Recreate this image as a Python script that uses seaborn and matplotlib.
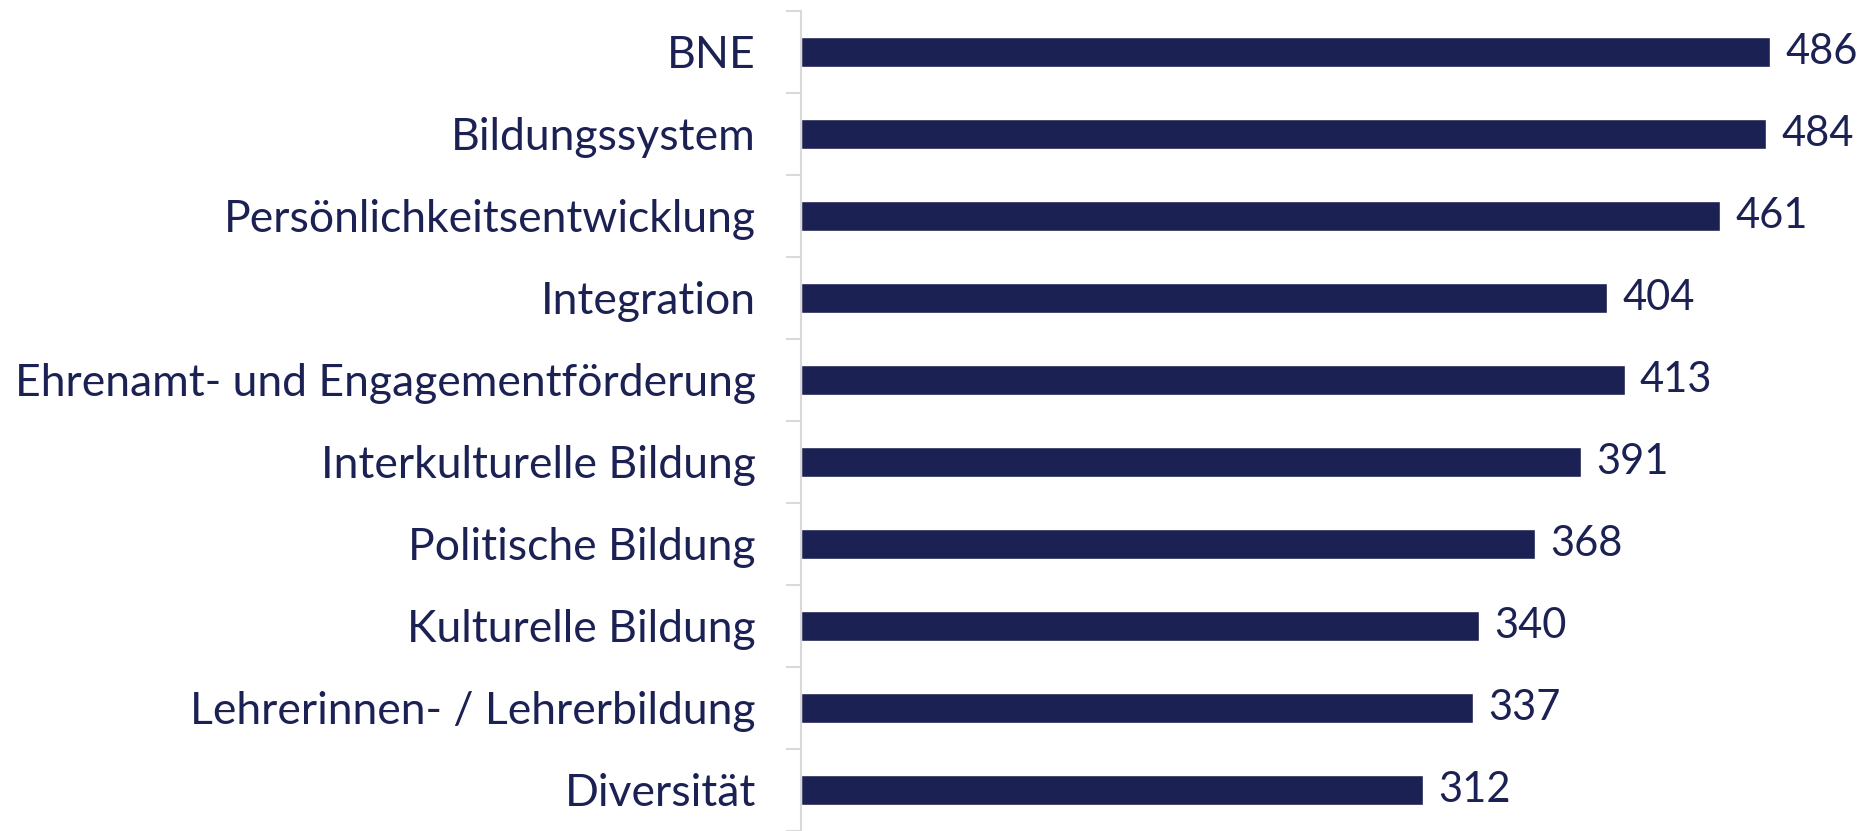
import matplotlib
matplotlib.use("Agg")
import matplotlib.pyplot as plt
import seaborn as sns
import pandas as pd
import numpy as np

categories = ["BNE", "Bildungssystem", "Persönlichkeitsentwicklung", "Integration",
              "Ehrenamt- und Engagementförderung", "Interkulturelle Bildung",
              "Politische Bildung", "Kulturelle Bildung",
              "Lehrerinnen- / Lehrerbildung", "Diversität"]
values = [486, 484, 461, 404, 413, 391, 368, 340, 337, 312]

NAVY = "#1c2154"
GRID = "#d9d9d9"

sns.set_theme(style="white")
plt.rcParams['font.family'] = ['Lato', 'DejaVu Sans']

W, H = 1862, 831
fig = plt.figure(figsize=(W / 100, H / 100), dpi=100)
ax = fig.add_axes([801 / W, 0, (W - 801) / W, 820 / H])

df = pd.DataFrame({"cat": categories, "val": values})
sns.barplot(data=df, x="val", y="cat", orient="h", color=NAVY, width=0.355,
            saturation=1, ax=ax)

ax.set_xlim(0, 532)
ax.set_ylim(9.475, -0.5)
ax.set_xlabel("")
ax.set_ylabel("")
ax.set_xticks([])

for s in ["top", "right", "bottom"]:
    ax.spines[s].set_visible(False)
ax.spines["left"].set_color(GRID)
ax.spines["left"].set_linewidth(1.5)

ax.set_yticks(np.arange(len(categories)))
ax.set_yticklabels(categories)
ax.set_yticks(np.arange(-0.5, len(categories), 1.0), minor=True)
ax.tick_params(axis="y", which="major", length=0, pad=32.5, labelsize=32, labelcolor=NAVY)
ax.tick_params(axis="y", which="minor", length=11, width=1.5, color=GRID, left=True)

for c in ax.containers:
    ax.bar_label(c, labels=[str(v) for v in values], padding=11, fontsize=30, color=NAVY)

fig.savefig("out.png", dpi=100)
